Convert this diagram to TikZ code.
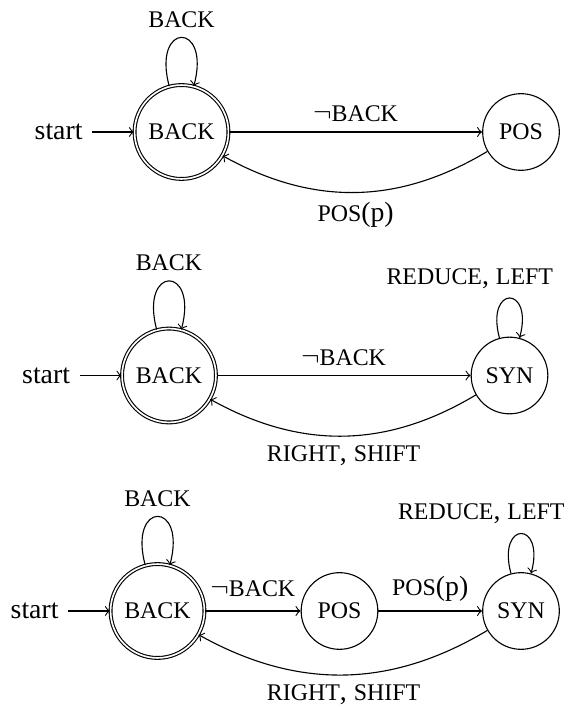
\documentclass[tikz,border=0pt]{standalone}
\usepackage{fontspec}
\setmainfont{Liberation Serif}
\usetikzlibrary{positioning}
\newcommand\lblfont{\fontsize{8.6pt}{10pt}\selectfont}
\newcommand\nrm[1]{{\fontsize{10pt}{12pt}\selectfont #1}}
\begin{document}
\begin{tikzpicture}[x=0.36pt,y=0.36pt,>=to,
  acc/.style={circle,draw,double,minimum size=33.8pt,inner sep=0pt,font=\lblfont},
  st/.style={circle,draw,minimum size=27.6pt,inner sep=0pt,font=\lblfont},
  lab/.style={font=\lblfont,inner sep=3.33pt},
  selfloop/.style={out=105,in=75,looseness=7,min distance=5mm},
  starttxt/.style={font=\fontsize{10pt}{12pt}\selectfont,inner sep=3.33pt}]
\useasboundingbox (0,0) rectangle (570,708);
% ---------- diagram 1
\node[acc] (b1) at (181.5,576) {BACK};
\node[st]  (p1) at (521,576) {POS};
\node[starttxt] (s1) [left=15pt of b1] {start};
\draw[->] (s1) -- (b1);
\draw[->] (b1) to[selfloop] node[lab,above] {BACK} (b1);
\draw[->] (b1) -- node[lab,above] {\nrm{$\neg$}BACK} (p1);
\draw[->] (p1) to[bend left] node[lab,below] {POS\nrm{(p)}} (b1);
% ---------- diagram 2
\node[acc] (b2) at (169,332.5) {BACK};
\node[st]  (y2) at (509.5,332.5) {SYN};
\node[starttxt] (s2) [left=15pt of b2] {start};
\draw[->] (s2) -- (b2);
\draw[->] (b2) to[selfloop] node[lab,above] {BACK} (b2);
\draw[->] (y2) to[selfloop] node[lab,above,xshift=-14.3pt] {REDUCE\nrm{, }LEFT} (y2);
\draw[->] (b2) -- node[lab,above] {\nrm{$\neg$}BACK} (y2);
\draw[->] (y2) to[bend left] node[lab,below] {RIGHT\nrm{, }SHIFT} (b2);
% ---------- diagram 3
\node[acc] (b3) at (157.5,97) {BACK};
\node[st]  (p3) at (339.5,97) {POS};
\node[st]  (y3) at (521,97) {SYN};
\node[starttxt] (s3) [left=15pt of b3] {start};
\draw[->] (s3) -- (b3);
\draw[->] (b3) to[selfloop] node[lab,above] {BACK} (b3);
\draw[->] (y3) to[selfloop] node[lab,above,xshift=-14.3pt] {REDUCE\nrm{, }LEFT} (y3);
\draw[->] (b3) -- node[lab,above,yshift=1.5pt] {\nrm{$\neg$}BACK} (p3);
\draw[->] (p3) -- node[lab,above] {POS\nrm{(p)}} (y3);
\draw[->] (y3) to[bend left] node[lab,below] {RIGHT\nrm{, }SHIFT} (b3);
\end{tikzpicture}
\end{document}
